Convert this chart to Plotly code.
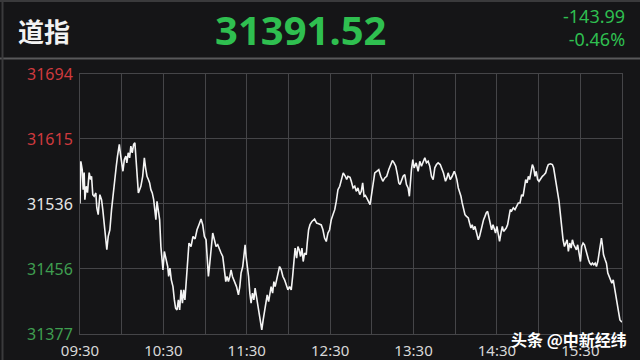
import plotly.graph_objects as go

# ---------------- data ----------------
index_name = "道指"
last_price = "31391.52"
change_abs = "-143.99"
change_pct = "-0.46%"
watermark = "头条 @中新经纬"

# minutes since 09:30
minutes = [
    0, 0.6, 1.6, 2.3, 3.0, 3.5, 4.5, 5.4, 6.6, 7.6, 8.3, 9.2, 10.2, 11.4, 12.1,
    13.1, 14.3, 15.5, 16.4, 17.4, 18.4, 19.3, 20.3, 21.5, 22.7, 23.6, 25.1, 26.1, 27.0, 28.3,
    29.0, 29.9, 30.9, 31.9, 33.0, 33.7, 34.7, 35.7, 36.6, 37.6, 38.6, 39.5, 40.2, 40.9, 42.0,
    42.9, 43.8, 45.1, 46.3, 47.2, 48.2, 49.2, 50.1, 51.0, 52.0, 53.0, 53.9, 54.6, 55.4, 56.4,
    57.3, 58.2, 59.0, 59.7, 60.7, 61.9, 63.1, 63.8, 64.7, 65.7, 66.9, 67.9, 68.8, 69.8, 70.8,
    71.7, 72.7, 73.7, 74.6, 75.5, 76.6, 77.5, 78.4,
    79.9, 81.3, 82.8, 84.2, 85.6, 87.1, 88.3, 89.5, 90.7, 91.4, 92.4, 93.4, 94.3, 95.5, 96.7,
    97.9, 99.1, 100.3, 101.5, 102.7, 104.0, 104.9, 105.8, 106.8, 107.8, 108.7, 109.7, 110.7, 111.6, 112.6,
    114.0, 115.0, 115.9, 117.1, 117.9, 118.8, 119.5, 120.2, 121.3, 122.2, 123.1, 124.1, 125.1, 126.0, 127.0,
    128.0, 129.2, 130.1, 130.8, 131.8, 132.8, 133.7, 134.7, 135.7, 136.6, 137.5, 138.6, 139.5, 140.4, 141.4,
    142.4, 143.6, 144.8, 146.0, 147.2, 148.4, 149.6, 150.8, 152.0, 153.0, 153.9, 154.8, 155.9, 156.8,
    157.7, 158.7, 159.7, 160.6, 161.6, 162.8, 163.5, 164.5, 165.5, 166.9, 168.8, 170.3, 171.7, 173.6, 174.8,
    176.0, 177.2, 178.4, 179.6, 180.8, 182.0, 183.3, 184.4, 185.6, 186.9, 188.0, 189.4, 190.9, 191.9, 192.8,
    194.3, 195.2, 196.5, 197.7, 198.8, 200.0, 201.3, 202.4, 203.4, 204.4, 205.3, 206.3, 207.3, 208.7, 209.6,
    210.9, 212.1, 213.5, 215.0, 216.4, 217.9, 219.3, 220.7, 222.2, 223.6, 224.8, 226.0, 227.2, 228.4, 229.4,
    230.3, 231.3, 232.5, 233.7, 234.9, 236.1, 237.0,
    238.5, 239.5, 240.4, 241.9, 243.3, 244.5, 245.7, 246.9, 248.1, 249.3, 250.5, 251.7, 252.9, 254.1, 255.3,
    256.5, 257.7, 259.2, 260.1, 261.5, 263.0, 264.0, 264.9, 266.4, 267.8, 269.3, 270.2, 271.2, 272.2, 273.1,
    274.1, 275.0, 276.0, 277.0, 278.1, 279.4, 280.3, 281.3, 282.2, 283.2, 284.2, 285.3, 286.6, 287.5, 288.5,
    289.4, 290.4, 291.4, 292.3, 293.3, 294.3, 295.2, 296.2, 297.2, 298.1, 299.0, 300.0, 301.0, 301.9, 302.9,
    303.9, 304.8, 305.8, 306.7, 307.7, 308.7, 309.6, 310.6, 311.8, 313.0, 314.2, 315.4,
    316.6, 317.8, 318.8, 319.7, 320.7, 321.7, 322.6, 323.5, 324.5, 325.5, 326.4, 327.4, 328.3, 329.3, 330.3,
    331.2, 332.7, 334.1, 335.1, 336.1, 337.0, 338.5, 339.9, 340.8, 341.9, 342.8, 343.7, 344.7, 345.7, 346.6,
    347.6, 348.6, 349.5, 350.5, 351.4, 352.4, 353.4, 354.3, 355.3, 356.3, 357.2, 358.1, 359.2, 360.1, 361.0,
    362.0, 363.0, 363.9, 364.9, 365.9, 366.8, 367.8, 368.7, 369.7, 370.7, 371.6, 372.6, 373.6, 374.5, 375.2,
    375.9, 376.7, 377.9, 378.8, 379.8, 380.8, 381.7, 382.7, 383.7, 384.6, 385.5, 386.5, 387.5, 388.5, 389.5,
    390,
]

values = [
    31536, 31587.6, 31577.5, 31553.0, 31573.8, 31540.8, 31557.1, 31549.4, 31573.8, 31565.3, 31569.3, 31546.9, 31544.9, 31549.0, 31530.7,
    31522.5, 31546.9, 31540.8, 31528.6, 31512.3, 31487.9, 31479.7, 31496.0, 31504.1, 31528.6, 31544.9, 31565.3, 31581.5, 31593.8, 31608.1,
    31597.9, 31585.7, 31575.4, 31589.7, 31593.8, 31585.7, 31597.9, 31591.8, 31606.0, 31597.9, 31608.1, 31610.1, 31593.8, 31573.5, 31549.0,
    31553.0, 31557.1, 31569.3, 31591.8, 31579.6, 31569.3, 31565.3, 31561.2, 31553.0, 31549.0, 31540.8, 31522.5, 31516.4, 31538.7, 31528.6,
    31516.4, 31483.7, 31471.5, 31455.2, 31477.6, 31469.5, 31459.3, 31447.1, 31457.3, 31443.0, 31434.8, 31418.6, 31408.4, 31406.3, 31418.6,
    31406.3, 31430.8, 31414.5, 31430.8, 31418.6, 31447.1, 31463.4, 31487.9,
    31483.7, 31496.0, 31493.0, 31504.1, 31510.3, 31517.2, 31510.3, 31496.0, 31491.9, 31467.5, 31447.1, 31463.4, 31483.7, 31500.1, 31491.9,
    31483.7, 31485.8, 31479.7, 31475.7, 31471.5, 31455.2, 31440.9, 31447.1, 31440.9, 31447.1, 31455.2, 31447.1, 31443.0, 31439.0, 31434.8,
    31424.7, 31434.8, 31451.2, 31459.3, 31471.5, 31485.8, 31471.5, 31463.4, 31447.1, 31426.8, 31414.5, 31426.8, 31418.6, 31432.9, 31422.6,
    31410.4, 31398.2, 31390.1, 31381.9, 31394.1, 31406.3, 31418.6, 31424.7, 31416.5, 31428.7, 31434.8, 31426.8, 31440.9, 31434.8, 31443.0,
    31451.2, 31459.3, 31455.2, 31447.1, 31443.0, 31436.9, 31430.8, 31434.8, 31430.8, 31447.1, 31471.5, 31481.8, 31469.5, 31483.7,
    31479.7, 31471.5, 31481.8, 31465.4, 31475.7, 31473.6, 31487.9, 31504.1, 31510.3, 31514.3, 31517.2, 31512.3, 31511.5, 31510.0, 31504.1,
    31494.0, 31489.8, 31500.1, 31504.1, 31516.4, 31522.5, 31528.6, 31538.7, 31553.0, 31557.1, 31563.2, 31573.5, 31569.3, 31565.3, 31569.3,
    31568.0, 31563.2, 31555.1, 31557.1, 31551.0, 31555.1, 31546.9, 31551.0, 31561.2, 31544.9, 31546.0, 31542.9, 31538.7, 31534.7, 31544.9,
    31559.2, 31573.5, 31575.4, 31577.5, 31569.3, 31563.2, 31567.3, 31569.3, 31577.5, 31583.6, 31588.5, 31585.7, 31581.5, 31571.4, 31561.2,
    31559.2, 31565.3, 31569.3, 31571.4, 31559.2, 31555.1, 31544.9,
    31577.5, 31589.7, 31579.6, 31585.7, 31575.4, 31587.6, 31581.5, 31585.7, 31591.8, 31585.7, 31587.6, 31581.5, 31569.3, 31565.3, 31579.6,
    31583.6, 31585.7, 31583.6, 31579.6, 31573.5, 31563.2, 31567.3, 31573.5, 31565.3, 31569.3, 31575.4, 31571.4, 31565.3, 31555.1, 31551.0,
    31544.9, 31536.8, 31528.6, 31522.5, 31520.4, 31518.4, 31512.3, 31506.2, 31510.3, 31504.1, 31508.2, 31500.1, 31491.9, 31496.0, 31504.1,
    31508.2, 31516.4, 31520.4, 31524.6, 31526.5, 31518.4, 31514.3, 31504.1, 31510.3, 31504.1, 31500.1, 31508.2, 31498.0, 31489.8, 31500.1,
    31508.2, 31502.1, 31504.1, 31506.2, 31510.3, 31518.4, 31528.6, 31527.0, 31530.7, 31528.6, 31532.6, 31536.8,
    31536.8, 31546.9, 31544.9, 31555.1, 31565.3, 31561.2, 31569.3, 31565.3, 31575.4, 31583.6, 31579.6, 31569.3, 31575.4, 31565.3, 31563.2,
    31566.1, 31569.3, 31571.4, 31573.5, 31579.6, 31583.6, 31584.5, 31583.6, 31579.6, 31569.3, 31559.2, 31551.0, 31538.7, 31522.5, 31504.1,
    31491.9, 31483.7, 31487.9, 31491.9, 31477.6, 31487.9, 31481.8, 31491.9, 31485.8, 31481.8, 31479.7, 31485.8, 31475.7, 31465.4, 31483.7,
    31487.9, 31485.8, 31479.7, 31471.5, 31467.5, 31463.4, 31461.4, 31463.4, 31461.4, 31463.4, 31459.3, 31465.4, 31475.7, 31485.8, 31494.0,
    31485.8, 31473.6, 31467.5, 31463.4, 31451.2, 31447.1, 31443.0, 31439.0, 31443.0, 31434.8, 31424.7, 31414.5, 31404.3, 31394.1, 31391.5,
    31391.52,
]

if len(minutes) != len(values):
    raise ValueError(f"length mismatch {len(minutes)} vs {len(values)}")

x_tick_minutes = [0, 30, 60, 90, 120, 150, 180, 210, 240, 270, 300, 330, 360, 390]
x_tick_labels = ["09:30", "", "10:30", "", "11:30", "", "12:30", "", "13:30", "", "14:30", "", "15:30", ""]

y_tick_values = [31377.0, 31456.26, 31535.51, 31614.76, 31694.0]
y_tick_labels = ["31377", "31456", "31536", "31615", "31694"]
y_tick_colors = ["#3f9e50", "#3f9e50", "#e6e6e6", "#cf3a3e", "#cf3a3e"]

# ---------------- figure ----------------
BG = "#151517"
GRID = "#454548"
GREEN = "#2fbf50"

W, H = 640, 360
L, R, T, B = 80, 18, 74, 26
PW, PH = W - L - R, H - T - B


def px(x):
    return (x - L) / PW


def py(y):
    return (H - B - y) / PH


fig = go.Figure()
fig.add_trace(go.Scatter(
    x=minutes, y=values, mode="lines",
    line=dict(color="#f4f4f4", width=1.6),
    hoverinfo="skip", showlegend=False,
))

fig.update_layout(
    width=W, height=H,
    margin=dict(l=L, r=R, t=T, b=B, pad=0, autoexpand=False),
    paper_bgcolor=BG, plot_bgcolor=BG,
    font=dict(family="Noto Sans, Noto Sans CJK SC", color="#e0e0e0"),
    xaxis=dict(
        range=[0, 390], tickvals=x_tick_minutes, ticktext=x_tick_labels,
        showgrid=True, gridcolor=GRID, gridwidth=1, zeroline=False,
        showline=True, linecolor=GRID, linewidth=1, mirror=True,
        ticks="", ticklabelstandoff=3, automargin=False,
        tickfont=dict(size=15, color="#d8d8d8", family="Noto Sans"),
        fixedrange=True,
    ),
    yaxis=dict(
        range=[31377.0, 31694.0], tickvals=y_tick_values,
        ticktext=[f"<span style='color:{c}'>{t}</span>" for t, c in zip(y_tick_labels, y_tick_colors)],
        showgrid=True, gridcolor=GRID, gridwidth=1, zeroline=False,
        showline=True, linecolor=GRID, linewidth=1, mirror=True,
        ticks="", ticklabelstandoff=3, automargin=False,
        tickfont=dict(size=16, family="Noto Sans"),
        fixedrange=True,
    ),
)

# header separator and frame
fig.add_shape(type="line", xref="paper", yref="paper",
              x0=px(0), x1=px(640), y0=py(58.5), y1=py(58.5),
              line=dict(color="#58585a", width=2))
fig.add_shape(type="line", xref="paper", yref="paper",
              x0=px(0), x1=px(640), y0=py(1), y1=py(1),
              line=dict(color="#3a3a3c", width=2))
fig.add_shape(type="line", xref="paper", yref="paper",
              x0=px(2.5), x1=px(2.5), y0=py(0), y1=py(360),
              line=dict(color="#3a3a3c", width=2))

fig.add_annotation(text=f"<b>{index_name}</b>", x=px(44), y=py(31), xref="paper", yref="paper",
                   xanchor="center", yanchor="middle", showarrow=False,
                   font=dict(size=26, color="#f2f2f2", family="Noto Sans CJK SC"))
fig.add_annotation(text=f"<b>{last_price}</b>", x=px(300), y=py(30), xref="paper", yref="paper",
                   xanchor="center", yanchor="middle", showarrow=False,
                   font=dict(size=40, color=GREEN, family="Noto Sans"))
fig.add_annotation(text=f"{change_abs}<br>{change_pct}", x=px(627), y=py(28), xref="paper", yref="paper",
                   xanchor="right", yanchor="middle", align="right", showarrow=False,
                   font=dict(size=18, color=GREEN, family="Noto Sans"))
fig.add_annotation(text=f"<b>{watermark}</b>", x=px(629), y=py(339), xref="paper", yref="paper",
                   xanchor="right", yanchor="middle", showarrow=False,
                   font=dict(size=16, color="#ffffff", family="Noto Sans CJK SC"))

fig.write_html("out.html")
